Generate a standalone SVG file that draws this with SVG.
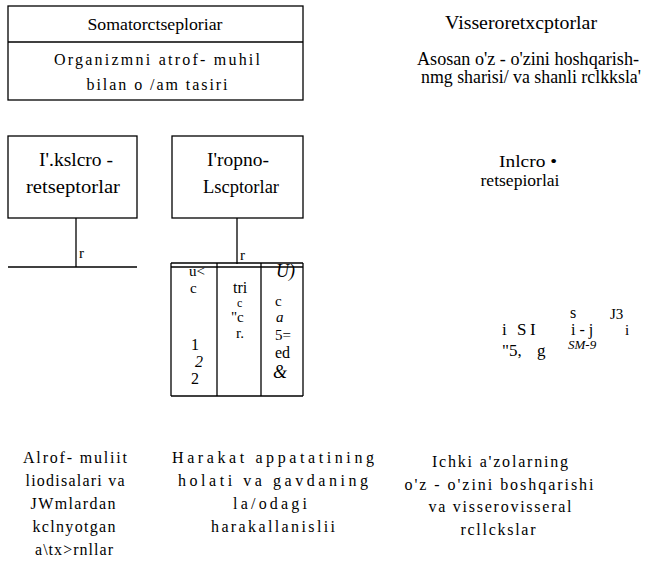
<svg xmlns="http://www.w3.org/2000/svg" width="648" height="562" viewBox="0 0 648 562">
  <style>
    .box { fill: #ffffff; stroke: #000000; stroke-width: 1.3; }
    .ln { stroke: #000000; stroke-width: 1.3; fill: none; }
    text { font-family: 'Liberation Serif', 'Times New Roman', serif; fill: #000000; }
    .c { text-anchor: middle; }
    .it { font-style: italic; }
  </style>
  <rect width="648" height="562" fill="#ffffff"/>

  <!-- Top: somatic receptors box -->
  <g id="somatoretseptorlar">
    <rect class="box" x="8" y="6" width="295" height="94"/>
    <line class="ln" x1="8" y1="42" x2="303" y2="42"/>
    <text class="c" x="155" y="30" font-size="17" textLength="135" lengthAdjust="spacingAndGlyphs">Somatorctseploriar</text>
    <text class="c" x="157" y="65" font-size="16" textLength="206" lengthAdjust="spacing">Organizmni atrof- muhil</text>
    <text class="c" x="157" y="90" font-size="16" textLength="141" lengthAdjust="spacing">bilan o /am tasiri</text>
  </g>

  <!-- Top right: visceral receptors -->
  <g id="visseroretseptorlar">
    <text class="c" x="521" y="29" font-size="19" textLength="152" lengthAdjust="spacingAndGlyphs">Visseroretxcptorlar</text>
    <text class="c" x="528" y="65" font-size="18" textLength="222" lengthAdjust="spacingAndGlyphs">Asosan o'z - o'zini hoshqarish-</text>
    <text class="c" x="531" y="83" font-size="18" textLength="220" lengthAdjust="spacingAndGlyphs">nmg sharisi/ va shanli rclkksla'</text>
  </g>

  <!-- Exteroreceptors -->
  <g id="ekstero">
    <rect class="box" x="8" y="136" width="129" height="82"/>
    <text class="c" x="76" y="166" font-size="18" textLength="74" lengthAdjust="spacingAndGlyphs">I'.kslcro -</text>
    <text class="c" x="73" y="193" font-size="18" textLength="94" lengthAdjust="spacingAndGlyphs">retseptorlar</text>
  </g>

  <!-- Proprioreceptors -->
  <g id="proprio">
    <rect class="box" x="172" y="136" width="131" height="82"/>
    <text class="c" x="238" y="166" font-size="18" textLength="62" lengthAdjust="spacingAndGlyphs">I'ropno-</text>
    <text class="c" x="241" y="193" font-size="18" textLength="76" lengthAdjust="spacingAndGlyphs">Lscptorlar</text>
  </g>

  <!-- Interoreceptors -->
  <g id="intero">
    <text class="c" x="528" y="167" font-size="17" textLength="58" lengthAdjust="spacingAndGlyphs">Inlcro •</text>
    <text class="c" x="520" y="186" font-size="16" textLength="79" lengthAdjust="spacingAndGlyphs">retsepiorlai</text>
  </g>

  <!-- Connectors -->
  <g id="connectors">
    <line class="ln" x1="76" y1="218" x2="76" y2="267"/>
    <line class="ln" x1="8" y1="267" x2="137" y2="267"/>
    <line class="ln" x1="237" y1="218" x2="237" y2="264"/>
    <text x="79" y="258" font-size="15">r</text>
    <text x="240" y="260" font-size="15">r</text>
  </g>

  <!-- Proprio table -->
  <g id="proprio-jadval">
    <line class="ln" x1="171" y1="263" x2="303" y2="263"/>
    <line class="ln" x1="171" y1="267" x2="303" y2="267"/>
    <line class="ln" x1="171" y1="263" x2="171" y2="396"/>
    <line class="ln" x1="217" y1="263" x2="217" y2="396"/>
    <line class="ln" x1="261" y1="263" x2="261" y2="396"/>
    <line class="ln" x1="303" y1="263" x2="303" y2="396"/>
    <line class="ln" x1="171" y1="396" x2="303" y2="396"/>
    <text font-size="15"><tspan x="189" y="276">u&lt;</tspan><tspan x="190" y="293">c</tspan></text>
    <text font-size="16"><tspan x="191" y="350">1</tspan><tspan class="it" x="195" y="367">2</tspan><tspan x="191" y="384">2</tspan></text>
    <text font-size="16"><tspan x="233" y="293">tri</tspan><tspan x="237" y="307" font-size="12">c</tspan><tspan x="231" y="322" font-size="15">"c</tspan><tspan x="236" y="338" font-size="15">r.</tspan></text>
    <text font-size="15"><tspan class="it" x="276" y="277" font-size="18">U)</tspan><tspan x="275" y="306">c</tspan><tspan class="it" x="276" y="322">a</tspan><tspan x="275" y="340">5=</tspan><tspan x="275" y="358" font-size="16">ed</tspan><tspan class="it" x="273" y="378" font-size="18">&amp;</tspan></text>
  </g>

  <!-- Intero fragments -->
  <g id="intero-belgilar">
    <text font-size="17"><tspan x="502" y="335">i</tspan><tspan x="517" y="335">S</tspan><tspan x="530" y="335">I</tspan></text>
    <text font-size="17"><tspan x="502" y="356">"5,</tspan><tspan x="537" y="356">g</tspan></text>
    <text font-size="16"><tspan x="570" y="318">s</tspan><tspan x="571" y="335">i - j</tspan></text>
    <text class="it" x="568" y="349" font-size="13">SM-9</text>
    <text font-size="15"><tspan x="610" y="319">J3</tspan><tspan x="625" y="335">i</tspan></text>
  </g>

  <!-- Bottom descriptions -->
  <g id="izoh-ekstero">
    <text class="c" x="75" y="463" font-size="16" textLength="104" lengthAdjust="spacing">Alrof- muliit</text>
    <text class="c" x="75" y="486" font-size="16" textLength="99" lengthAdjust="spacing">liodisalari va</text>
    <text class="c" x="73" y="509" font-size="16" textLength="85" lengthAdjust="spacing">JWmlardan</text>
    <text class="c" x="74" y="532" font-size="16" textLength="83" lengthAdjust="spacing">kclnyotgan</text>
    <text class="c" x="74" y="555" font-size="16" textLength="78" lengthAdjust="spacing">a\tx&gt;rnllar</text>
  </g>
  <g id="izoh-proprio">
    <text class="c" x="273" y="463" font-size="16" textLength="202" lengthAdjust="spacing">Harakat appatatining</text>
    <text class="c" x="273" y="486" font-size="16" textLength="190" lengthAdjust="spacing">holati va gavdaning</text>
    <text class="c" x="270" y="509" font-size="16" textLength="74" lengthAdjust="spacing">la/odagi</text>
    <text class="c" x="273" y="532" font-size="16" textLength="124" lengthAdjust="spacing">harakallanislii</text>
  </g>
  <g id="izoh-intero">
    <text class="c" x="500" y="467" font-size="16" textLength="136" lengthAdjust="spacing">Ichki a'zolarning</text>
    <text class="c" x="499" y="490" font-size="16" textLength="189" lengthAdjust="spacing">o'z - o'zini boshqarishi</text>
    <text class="c" x="500" y="512" font-size="16" textLength="143" lengthAdjust="spacing">va visserovisseral</text>
    <text class="c" x="498" y="535" font-size="16" textLength="75" lengthAdjust="spacing">rcllckslar</text>
  </g>
</svg>
